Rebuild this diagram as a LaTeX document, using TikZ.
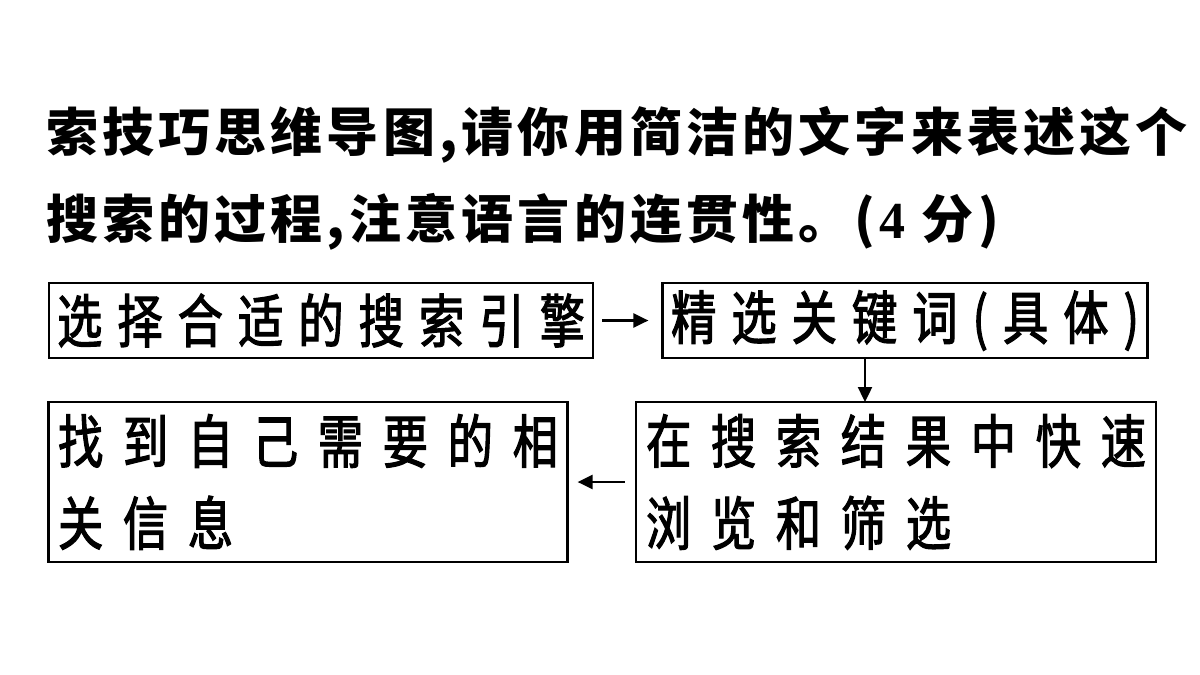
\documentclass[tikz,border=0pt]{standalone}
\usepackage{fontspec}
\usepackage{tikz}
\usetikzlibrary{arrows.meta}

\setmainfont{Liberation Serif}
\newfontfamily\cjk[LetterSpace=8]{Noto Sans CJK SC}
\newfontfamily\boxfont[FakeStretch=0.78,FakeBold=2,LetterSpace=26]{Noto Sans CJK SC}
\newfontfamily\wideboxfont[FakeStretch=0.78,FakeBold=2,LetterSpace=34]{Noto Sans CJK SC}

\begin{document}
\begin{tikzpicture}[x=1pt,y=-1pt,
    box/.style={shape=rectangle,draw=black,line width=2.2pt,inner sep=0pt},
    flow/.style={-{Triangle[length=15pt,width=14pt]},line width=2.4pt}]
    \useasboundingbox (0,0) rectangle (1200,675);

    % question text
    \node[anchor=west,inner sep=0pt,font=\cjk\bfseries\fontsize{52}{60}\selectfont] (Q1) at (46,135) {索技巧思维导图,请你用简洁的文字来表述这个};
    \node[anchor=west,inner sep=0pt,font=\cjk\bfseries\fontsize{52}{60}\selectfont] (Q2) at (46,222) {搜索的过程,注意语言的连贯性。(\textbf{\rmfamily 4} 分)};

    % flow chart
    \node[box,minimum width=544pt,minimum height=75pt,font=\boxfont\fontsize{58}{60}\selectfont] (A) at (321,320.5) {选择合适的搜索引擎};
    \node[box,minimum width=485pt,minimum height=75pt,font=\boxfont\fontsize{58}{60}\selectfont] (B) at (905,320.5) {精选关键词(具体)};
    \node[box,minimum width=520pt,minimum height=160pt,align=left,font=\wideboxfont\fontsize{58}{82}\selectfont] (C) at (896,482) {在搜索结果中快速\\浏览和筛选};
    \node[box,minimum width=519pt,minimum height=160pt,align=left,font=\wideboxfont\fontsize{58}{82}\selectfont] (D) at (308,482) {找到自己需要的相\\关信息};
    \coordinate (Bdown) at (865,358);
    \coordinate (Ctop) at (865,402);

    \path [flow,shorten <=8pt,shorten >=13pt] (A) edge (B);
    \path [flow] (Bdown) edge (Ctop);
    \path [flow,shorten <=10pt,shorten >=9pt] (C) edge (D);
\end{tikzpicture}
\end{document}
